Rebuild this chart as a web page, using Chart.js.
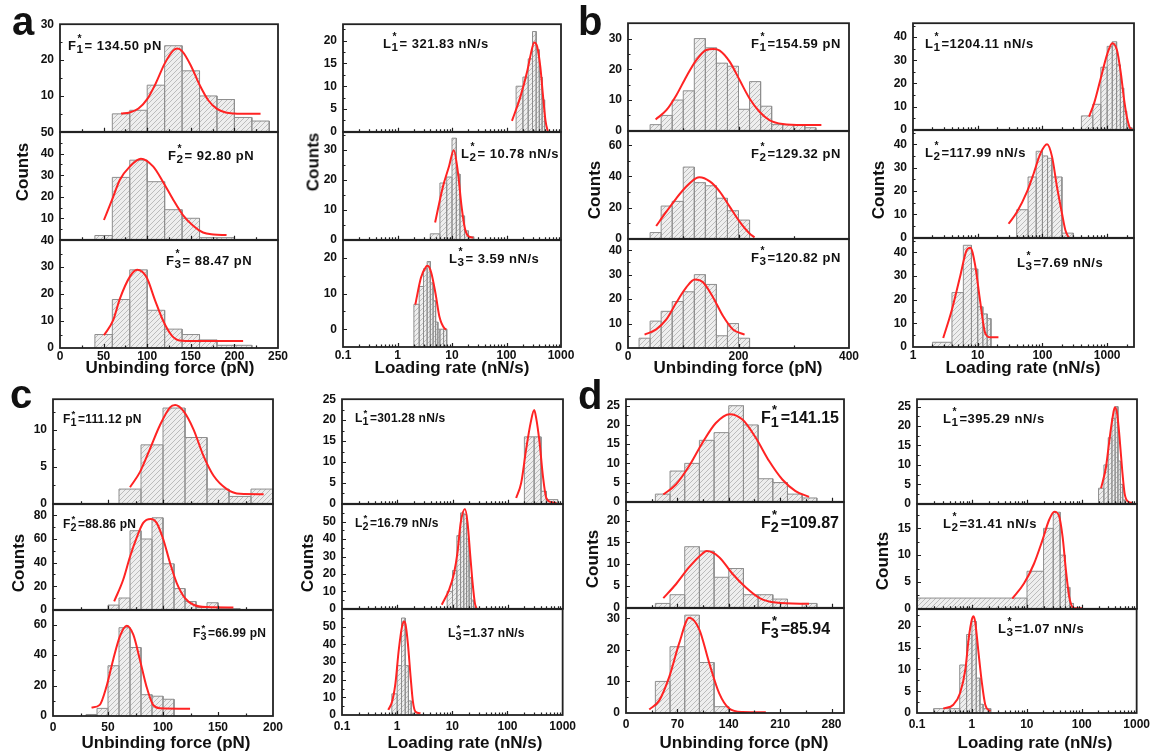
<!DOCTYPE html>
<html>
<head>
<meta charset="utf-8">
<title>Unbinding force and loading rate histograms</title>
<script src="https://cdn.jsdelivr.net/npm/chart.js@4.4.1/dist/chart.umd.min.js"></script>
<style>
  body { margin: 0; background: #fff; }
  #page { position: relative; width: 1152px; height: 753px; overflow: hidden; background: #fff;
          font-family: "Liberation Sans", Arial, sans-serif; color: #111; }
  #page canvas { position: absolute; }
  .txt { position: absolute; font-weight: bold; white-space: nowrap; line-height: 1; }
  .panel { font-size: 40px; }
  .xtitle { font-size: 17px; transform: translate(-50%, -50%); }
  .ytitle { font-size: 17px; transform: translate(-50%, -50%) rotate(-90deg); }
  .note { font-size: 13px; letter-spacing: 0.5px; transform: translateY(-50%); }
  .note.big { font-size: 16px; letter-spacing: 0; }
  .note.small { font-size: 12px; letter-spacing: 0.2px; }
  .ix { display: inline-block; position: relative; width: 0.62em; }
  .ix .up { position: absolute; left: 0.1em; top: -0.45em; font-size: 0.8em; }
  .ix .dn { position: relative; top: 0.28em; font-size: 0.9em; }
</style>
</head>
<body>
<div id="page"></div>
<script>
// ---- data: histogram bin edges, counts, and points ----

// panel a, unbinding force
const aF1Edges = [60, 80, 100, 120, 140, 160, 180, 200, 220, 240];
const aF1Counts = [5, 6, 13, 24, 17, 10, 9, 4, 3];
const aF1Fit = [[70, 5.1], [80, 5.4], [90, 6.5], [100, 9.1], [110, 13.6], [120, 19.0], [130, 22.7], [134.5, 23.2], [140, 22.5], [150, 18.5], [160, 13.1], [170, 8.8], [180, 6.4], [190, 5.4], [200, 5.1], [215, 5.0], [230, 5.0]];
const aF2Edges = [40, 60, 80, 100, 120, 140, 160, 180, 200];
const aF2Counts = [2, 29, 37, 27, 14, 10, 1, 1];
const aF2Fit = [[50.4, 9.2], [61, 20], [68.7, 27.9], [80, 34], [92.8, 37.7], [107, 34], [118, 27], [130, 18.5], [141, 11.5], [153, 6.4], [164, 3.4], [176, 2.5], [191, 2.2]];
const aF3Edges = [40, 60, 80, 100, 120, 140, 160, 180, 200, 220];
const aF3Counts = [5, 18, 29, 14, 7, 5, 3, 1, 1];
const aF3Fit = [[50.4, 4.7], [61, 10.3], [68.7, 18.3], [80, 26.4], [88.5, 29], [99, 26.4], [109, 17.7], [118, 10.3], [128, 4.7], [137, 2.8], [153, 2.6], [180, 2.6], [210, 2.6]];

// panel a, loading rate
const aL1Edges = [150, 200, 250, 300, 350, 400, 450, 500];
const aL1Counts = [10, 12, 16, 22, 18, 12, 7];
const aL1Fit = [[126, 2.4], [179, 7.6], [238, 13.1], [281, 17.2], [322, 19.6], [365, 18.7], [418, 14.2], [470, 7.6], [520, 2.4], [574, 0]];
const aL2Edges = [4, 6, 8, 10, 12, 14, 17, 20, 25];
const aL2Counts = [2, 19, 21, 34, 22, 8, 3, 1];
const aL2Fit = [[4.9, 5.8], [6.8, 17.7], [8.8, 24.5], [10.78, 30], [12.9, 22.3], [14.9, 11.5], [17.1, 4.1], [19.8, 1.25], [24.5, 0.7]];
const aL3Edges = [2, 2.5, 3, 3.5, 4, 4.5, 5, 5.5, 6, 7, 8];
const aL3Counts = [7, 12, 17, 19, 13, 8, 2, 0, 0, 0];
const aL3Fit = [[2.12, 6.9], [2.7, 14.5], [3.35, 17.6], [3.59, 17.8], [4.14, 16.0], [5.0, 9.9], [5.9, 3.4], [7.3, 0.2], [7.85, 0]];

// panel b, unbinding force
const bF1Edges = [40, 60, 80, 100, 120, 140, 160, 180, 200, 220, 240, 260, 280, 300, 320, 340];
const bF1Counts = [2, 5, 10, 13, 30, 27, 22, 21, 7, 16, 8, 2, 2, 2, 1];
const bF1Fit = [[50, 3.7], [69.4, 6.7], [87.5, 11.6], [105.5, 17.6], [123.6, 23], [141.7, 26.3], [154.6, 26.6], [166, 26.1], [184, 22.5], [202, 16.5], [220, 10.5], [238, 6.2], [256, 3.5], [280, 2.2], [317, 1.85], [350, 1.85]];
const bF2Edges = [40, 60, 80, 100, 120, 140, 160, 180, 200, 220];
const bF2Counts = [4, 21, 24, 46, 36, 34, 26, 18, 12];
const bF2Fit = [[51, 8.2], [69.4, 17.4], [87.5, 26], [105.5, 33.5], [123.6, 38.9], [129.3, 39.4], [148, 36.8], [166, 30.3], [184, 20.6], [202, 11], [220, 3.4], [229, 0.9]];
const bF3Edges = [20, 40, 60, 80, 100, 120, 140, 160, 180, 200, 220];
const bF3Counts = [4, 11, 15, 19, 23, 30, 26, 5, 10, 4];
const bF3Fit = [[30, 5.5], [51, 7.6], [69.4, 11.7], [87.5, 18.6], [105.5, 24.8], [120.8, 28], [135.7, 26.9], [154, 20.7], [172, 13.1], [190, 7.6], [211, 5.5]];

// panel b, loading rate
const bL1Edges = [400, 600, 800, 1000, 1200, 1400, 1600, 1800, 2000, 2200, 2400];
const bL1Counts = [6, 11, 27, 36, 38, 28, 18, 8, 2, 1];
const bL1Fit = [[525, 5.7], [628, 11.4], [795, 22.1], [1008, 32.9], [1204, 37.4], [1420, 34.3], [1630, 24.3], [1830, 12.9], [2060, 4.3], [2320, 0.3], [2600, 0]];
const bL2Edges = [40, 60, 80, 100, 120, 140, 200, 300];
const bL2Counts = [12, 26, 37, 35, 34, 26, 2];
const bL2Fit = [[30, 6], [40.4, 11], [57.6, 19.6], [73, 27.4], [93, 36], [118, 40], [141, 34.6], [168, 21.7], [201, 10.3], [227, 3.1], [256, 0]];
const bL3Edges = [2, 4, 6, 8, 10, 12, 14, 16];
const bL3Counts = [2, 23, 43, 33, 17, 14, 12];
const bL3Fit = [[2.93, 3.8], [3.94, 15.2], [5.3, 29.4], [6.7, 40.7], [7.69, 42], [9.07, 35], [10.9, 19.4], [13, 6], [15.6, 4.1], [20.9, 4.1]];

// panel c, unbinding force
const cF1Edges = [60, 80, 100, 120, 140, 160, 180, 200];
const cF1Counts = [2, 8, 13, 9, 2, 1, 2];
const cF1Fit = [[70, 2.25], [79, 4.3], [88, 7.4], [97, 10.6], [106.4, 13.1], [111.1, 13.4], [118.5, 12.6], [127.7, 10.1], [136.8, 6.5], [146, 3.8], [158, 2], [170, 1.35], [191.5, 1.3]];
const cF2Edges = [50, 60, 70, 80, 90, 100, 110, 120, 130, 140, 150, 160, 170];
const cF2Counts = [4, 10, 67, 60, 78, 39, 18, 7, 2, 6, 1, 1];
const cF2Fit = [[55.6, 7.1], [63.8, 25.5], [70, 45], [76, 61], [82, 73.7], [88.9, 77], [94.2, 73.7], [100.3, 59.6], [106.4, 39.7], [112.5, 22.7], [120, 9.9], [127.7, 4.3], [140, 2.3], [164, 2]];
const cF3Edges = [30, 40, 50, 60, 70, 80, 90, 100, 110];
const cF3Counts = [1, 5, 33, 58, 45, 14, 13, 11];
const cF3Fit = [[35, 5.5], [42.5, 7.3], [48.6, 19.3], [54.7, 37], [60.8, 52.3], [67, 59.3], [73, 53.4], [79, 37], [85, 19.3], [91, 7.3], [97.3, 5.1], [124.6, 4.8]];

// panel c, loading rate
const cL1Edges = [200, 300, 400, 500, 800];
const cL1Counts = [16, 16, 3, 1];
const cL1Fit = [[142, 1.4], [175, 5], [215, 13], [260, 19.4], [301, 22.4], [326, 20.6], [377, 14.6], [433, 6.6], [498, 1.4], [610, 0.4], [757, 0.2]];
const cL2Edges = [8, 10, 12, 14, 16, 18, 20, 22, 24, 26];
const cL2Counts = [10, 22, 42, 55, 54, 40, 18, 5, 1];
const cL2Fit = [[6.4, 2.3], [8.7, 11], [10.7, 20.7], [12.3, 32.2], [14.1, 49.6], [16.8, 57.3], [18.7, 49.6], [21, 30.3], [23.1, 14.9], [25.4, 3.3], [27.3, 0]];
const cL3Edges = [0.8, 1.0, 1.2, 1.4, 1.6, 1.8, 2.0];
const cL3Counts = [12, 28, 55, 28, 8, 1];
const cL3Fit = [[0.69, 2.9], [0.81, 7.6], [0.93, 18], [1.07, 37], [1.23, 50.4], [1.35, 53], [1.42, 51.3], [1.56, 40.9], [1.75, 21.9], [1.93, 7.6], [2.15, 1.9], [2.65, 1]];

// panel d, unbinding force
const dF1Edges = [40, 60, 80, 100, 120, 140, 160, 180, 200, 220, 240, 260];
const dF1Counts = [2, 8, 10, 16, 18, 25, 20, 6, 5, 2, 1];
const dF1Fit = [[50.8, 1.9], [68, 4.5], [86, 9.3], [104, 15.3], [122.4, 20.5], [141.2, 22.8], [158.7, 21.4], [177, 16.6], [195, 10.6], [213, 5.8], [231, 2.8], [249.4, 1.3]];
const dF2Edges = [40, 60, 80, 100, 120, 140, 160, 180, 200, 220, 240, 260];
const dF2Counts = [1, 3, 14, 13, 7, 9, 3, 3, 2, 0, 1];
const dF2Fit = [[50.8, 2.2], [68, 5.4], [86, 9.3], [104, 12.4], [109.9, 13], [127, 11.6], [145, 7.8], [163, 4.7], [181.4, 2.3], [204, 1.2], [249.4, 0.9]];
const dF3Edges = [40, 60, 80, 100, 120, 140];
const dF3Counts = [10, 21, 31, 16, 2];
const dF3Fit = [[31.7, 1.1], [45.4, 4], [59, 11.5], [72.6, 22.2], [86, 30.2], [99.8, 26.5], [113.4, 15.8], [127, 6.2], [140.6, 1.4], [158.7, 0.3], [190.5, 0.2]];

// panel d, loading rate
const dL1Edges = [200, 250, 300, 350, 400, 450, 500, 550, 600];
const dL1Counts = [4, 10, 17, 22, 25, 11, 5, 1];
const dL1Fit = [[222, 4], [274, 9.6], [315, 16.4], [362, 22.4], [395, 24.8], [434, 23.3], [480, 17.3], [538, 8.7], [595, 2.7], [686, 0.6], [845, 0.2]];
const dL2Edges = [0.1, 10, 20, 30, 40, 50, 60, 70];
const dL2Counts = [2, 7, 15, 18, 10, 4, 1];
const dL2Fit = [[5.4, 1.9], [8.8, 4.7], [13.4, 8.4], [19.1, 12.8], [25.3, 16.6], [31.4, 18.1], [38.5, 17.2], [44.4, 13.4], [51, 7.2], [58.6, 2.2], [72.3, 0.1], [100, 0.1]];
const dL3Edges = [0.2, 0.4, 0.6, 0.8, 1.0, 1.2, 1.4, 1.6, 2.2];
const dL3Counts = [1, 1, 11, 18, 21, 8, 2, 1];
const dL3Fit = [[0.3, 1], [0.46, 1.9], [0.61, 4.6], [0.76, 10], [0.87, 16.9], [1.0, 21.5], [1.07, 22.2], [1.15, 20.8], [1.32, 13.8], [1.52, 6.9], [1.75, 1.9], [2.16, 0.4]];

// tick labels
const forceTicksA = [0, 50, 100, 150, 200, 250];
const forceTicksB = [0, 200, 400];
const forceTicksC = [0, 50, 100, 150, 200];
const forceTicksD = [0, 70, 140, 210, 280];
const rateTicks = [0.1, 1, 10, 100, 1000];
const rateTicksB = [1, 10, 100, 1000];
const yTicks10to30 = [10, 20, 30];
const yTicks10to50 = [10, 20, 30, 40, 50];
const yTicks0to40by10 = [0, 10, 20, 30, 40];
const yTicks0to30by10 = [0, 10, 20, 30];
const yTicks0to20by10 = [0, 10, 20];
const yTicks0to20by5 = [0, 5, 10, 15, 20];
const yTicks0to25by5 = [0, 5, 10, 15, 20, 25];
const yTicks0to15by5 = [0, 5, 10, 15];
const yTicks0to10by5 = [0, 5, 10];
const yTicks0to60by20 = [0, 20, 40, 60];
const yTicks0to80by20 = [0, 20, 40, 60, 80];
const yTicks0to50by10 = [0, 10, 20, 30, 40, 50];

// fitted peak values shown in each subplot
const aNotes = [['F', '1', '= 134.50 pN'], ['F', '2', '= 92.80 pN'], ['F', '3', '= 88.47 pN'],
                ['L', '1', '= 321.83 nN/s'], ['L', '2', '= 10.78 nN/s'], ['L', '3', '= 3.59 nN/s']];
const bNotes = [['F', '1', '=154.59 pN'], ['F', '2', '=129.32 pN'], ['F', '3', '=120.82 pN'],
                ['L', '1', '=1204.11 nN/s'], ['L', '2', '=117.99 nN/s'], ['L', '3', '=7.69 nN/s']];
const cNotes = [['F', '1', '=111.12 pN'], ['F', '2', '=88.86 pN'], ['F', '3', '=66.99 pN'],
                ['L', '1', '=301.28 nN/s'], ['L', '2', '=16.79 nN/s'], ['L', '3', '=1.37 nN/s']];
const dNotes = [['F', '1', '=141.15'], ['F', '2', '=109.87'], ['F', '3', '=85.94'],
                ['L', '1', '=395.29 nN/s'], ['L', '2', '=31.41 nN/s'], ['L', '3', '=1.07 nN/s']];

// ---- layout of the eight columns (page pixels) ----
const FORCE = 'Unbinding force (pN)';
const RATE = 'Loading rate (nN/s)';

const columns = [
  { L: 60, R: 278, rows: [24, 132, 240, 348], xType: 'linear', xRange: [0, 250], xTicks: forceTicksA, xPad: 1,
    title: FORCE, titleAt: [170, 367], countsAt: [22, 172], noteCls: '',
    subs: [
      { edges: aF1Edges, counts: aF1Counts, fit: aF1Fit, yRange: [0, 30], yTicks: yTicks10to30, note: aNotes[0], at: [68, 45] },
      { edges: aF2Edges, counts: aF2Counts, fit: aF2Fit, yRange: [0, 50], yTicks: yTicks10to50, note: aNotes[1], at: [168, 155] },
      { edges: aF3Edges, counts: aF3Counts, fit: aF3Fit, yRange: [0, 40], yTicks: yTicks0to40by10, note: aNotes[2], at: [166, 260] }
    ] },
  { L: 343, R: 561, rows: [24, 132, 240, 347], xType: 'logarithmic', xRange: [0.1, 1000], xTicks: rateTicks, xPad: 1,
    title: RATE, titleAt: [452, 367], countsAt: [313, 162], noteCls: '',
    subs: [
      { edges: aL1Edges, counts: aL1Counts, fit: aL1Fit, yRange: [0, 23.6], yTicks: yTicks0to20by5, note: aNotes[3], at: [383, 43] },
      { edges: aL2Edges, counts: aL2Counts, fit: aL2Fit, yRange: [0, 36], yTicks: yTicks0to30by10, note: aNotes[4], at: [461, 153] },
      { edges: aL3Edges, counts: aL3Counts, fit: aL3Fit, yRange: [-5, 25], yTicks: yTicks0to20by10, note: aNotes[5], at: [449, 258] }
    ] },
  { L: 628, R: 849, rows: [23, 131, 239, 348], xType: 'linear', xRange: [0, 400], xTicks: forceTicksB, xPad: 1,
    title: FORCE, titleAt: [738, 367], countsAt: [594, 190], noteCls: '',
    subs: [
      { edges: bF1Edges, counts: bF1Counts, fit: bF1Fit, yRange: [0, 35], yTicks: yTicks0to30by10, note: bNotes[0], at: [751, 43] },
      { edges: bF2Edges, counts: bF2Counts, fit: bF2Fit, yRange: [0, 69], yTicks: yTicks0to60by20, note: bNotes[1], at: [751, 153] },
      { edges: bF3Edges, counts: bF3Counts, fit: bF3Fit, yRange: [0, 44.5], yTicks: yTicks0to40by10, note: bNotes[2], at: [751, 257] }
    ] },
  { L: 913, R: 1134, rows: [23, 130, 238, 347], xType: 'logarithmic', xRange: [1, 2600], xTicks: rateTicksB, xPad: 1,
    title: RATE, titleAt: [1023, 367], countsAt: [878, 190], noteCls: '',
    subs: [
      { edges: bL1Edges, counts: bL1Counts, fit: bL1Fit, yRange: [0, 46], yTicks: yTicks0to40by10, note: bNotes[3], at: [925, 43] },
      { edges: bL2Edges, counts: bL2Counts, fit: bL2Fit, yRange: [0, 46], yTicks: yTicks0to40by10, note: bNotes[4], at: [925, 152] },
      { edges: bL3Edges, counts: bL3Counts, fit: bL3Fit, yRange: [0, 46], yTicks: yTicks0to40by10, note: bNotes[5], at: [1017, 262] }
    ] },
  { L: 53, R: 273, rows: [399, 504, 610, 716], xType: 'linear', xRange: [0, 200], xTicks: forceTicksC, xPad: 4,
    title: FORCE, titleAt: [166, 742], countsAt: [18, 563], noteCls: 'small',
    subs: [
      { edges: cF1Edges, counts: cF1Counts, fit: cF1Fit, yRange: [0, 14.2], yTicks: yTicks0to10by5, note: cNotes[0], at: [63, 419] },
      { edges: cF2Edges, counts: cF2Counts, fit: cF2Fit, yRange: [0, 89.5], yTicks: yTicks0to80by20, note: cNotes[1], at: [63, 524] },
      { edges: cF3Edges, counts: cF3Counts, fit: cF3Fit, yRange: [0, 69.5], yTicks: yTicks0to60by20, note: cNotes[2], at: [193, 633] }
    ] },
  { L: 342, R: 563, rows: [399, 504, 609, 715], xType: 'logarithmic', xRange: [0.1, 1000], xTicks: rateTicks, xPad: 4,
    title: RATE, titleAt: [465, 742], countsAt: [307, 563], noteCls: 'small',
    subs: [
      { edges: cL1Edges, counts: cL1Counts, fit: cL1Fit, yRange: [0, 25], yTicks: yTicks0to25by5, note: cNotes[3], at: [355, 418] },
      { edges: cL2Edges, counts: cL2Counts, fit: cL2Fit, yRange: [0, 60], yTicks: yTicks0to50by10, note: cNotes[4], at: [355, 523] },
      { edges: cL3Edges, counts: cL3Counts, fit: cL3Fit, yRange: [0, 60], yTicks: yTicks0to50by10, note: cNotes[5], at: [448, 633] }
    ] },
  { L: 626, R: 844, rows: [399, 502, 608, 713], xType: 'linear', xRange: [0, 297], xTicks: forceTicksD, xPad: 4,
    title: FORCE, titleAt: [744, 742], countsAt: [592, 559], noteCls: 'big',
    subs: [
      { edges: dF1Edges, counts: dF1Counts, fit: dF1Fit, yRange: [0, 26.7], yTicks: yTicks0to25by5, note: dNotes[0], at: [761, 418] },
      { edges: dF2Edges, counts: dF2Counts, fit: dF2Fit, yRange: [0, 24.2], yTicks: yTicks0to20by5, note: dNotes[1], at: [761, 523] },
      { edges: dF3Edges, counts: dF3Counts, fit: dF3Fit, yRange: [0, 33.2], yTicks: yTicks0to30by10, note: dNotes[2], at: [761, 629] }
    ] },
  { L: 917, R: 1137, rows: [399, 504, 609, 713], xType: 'logarithmic', xRange: [0.1, 1000], xTicks: rateTicks, xPad: 4,
    title: RATE, titleAt: [1035, 742], countsAt: [882, 561], noteCls: '',
    subs: [
      { edges: dL1Edges, counts: dL1Counts, fit: dL1Fit, yRange: [0, 26.9], yTicks: yTicks0to25by5, note: dNotes[3], at: [943, 418] },
      { edges: dL2Edges, counts: dL2Counts, fit: dL2Fit, yRange: [0, 19.5], yTicks: yTicks0to15by5, note: dNotes[4], at: [943, 523] },
      { edges: dL3Edges, counts: dL3Counts, fit: dL3Fit, yRange: [0, 23.8], yTicks: yTicks0to20by5, note: dNotes[5], at: [998, 628] }
    ] }
];

const panelLetters = [['a', 12, 1], ['b', 578, 1], ['c', 10, 374], ['d', 578, 375]];

Chart.defaults.font.family = '"Liberation Sans", Arial, sans-serif';
Chart.defaults.color = '#111';

const page = document.getElementById('page');

function addText(cls, html, x, y) {
  const d = document.createElement('div');
  d.className = 'txt ' + cls;
  d.innerHTML = html;
  d.style.left = x + 'px';
  d.style.top = y + 'px';
  page.appendChild(d);
}

// small light-grey tile with "/" hatching, like the Origin column fill
const hatchTile = document.createElement('canvas');
hatchTile.width = 5;
hatchTile.height = 5;
(function () {
  const g = hatchTile.getContext('2d');
  g.fillStyle = '#eeeeee';
  g.fillRect(0, 0, 5, 5);
  g.strokeStyle = '#b5b5b5';
  g.lineWidth = 0.9;
  [-5, 0, 5].forEach(o => {
    g.beginPath();
    g.moveTo(o, 5);
    g.lineTo(o + 5, 0);
    g.stroke();
  });
})();

// outline of the histogram columns: up, across, down for every bin
function columnOutline(edges, counts, base) {
  const pts = [];
  counts.forEach((c, i) => {
    pts.push({ x: edges[i], y: base }, { x: edges[i], y: c }, { x: edges[i + 1], y: c }, { x: edges[i + 1], y: base });
  });
  return pts;
}

function linearMarks(min, max, step) {
  const major = [], minor = [];
  const start = Math.ceil(min / (step / 2) - 1e-9);
  for (let k = start; k * step / 2 <= max + 1e-9; k++) {
    const v = +(k * step / 2).toFixed(6);
    (k % 2 === 0 ? major : minor).push(v);
  }
  return { major, minor };
}

function logMarks(min, max) {
  const major = [], minor = [];
  for (let e = Math.floor(Math.log10(min)); e <= Math.ceil(Math.log10(max)); e++) {
    const base = Math.pow(10, e);
    if (base >= min * 0.999 && base <= max * 1.001) major.push(base);
    for (let k = 2; k <= 9; k++) {
      const v = k * base;
      if (v > min && v < max) minor.push(v);
    }
  }
  return { major, minor };
}

// inward tick marks and the dark frame round each subplot
function frameTicks(xm, ym) {
  return {
    id: 'frameTicks',
    afterDraw(chart) {
      const { ctx, chartArea: a, scales: { x, y } } = chart;
      ctx.save();
      ctx.strokeStyle = '#1e1e1e';
      ctx.lineWidth = 1.2;
      ctx.beginPath();
      const yMark = (v, len) => {
        const p = Math.round(y.getPixelForValue(v)) + 0.5;
        if (p > a.top + 1 && p < a.bottom - 1) { ctx.moveTo(a.left, p); ctx.lineTo(a.left + len, p); }
      };
      const xMark = (v, len) => {
        const p = Math.round(x.getPixelForValue(v)) + 0.5;
        if (p > a.left + 1 && p < a.right - 1) { ctx.moveTo(p, a.bottom); ctx.lineTo(p, a.bottom - len); }
      };
      ym.major.forEach(v => yMark(v, 4));
      ym.minor.forEach(v => yMark(v, 2.5));
      xm.major.forEach(v => xMark(v, 4));
      xm.minor.forEach(v => xMark(v, 2.5));
      ctx.stroke();
      ctx.lineWidth = 1.8;
      ctx.strokeStyle = '#222';
      ctx.strokeRect(a.left, a.top, a.right - a.left, a.bottom - a.top);
      ctx.restore();
    }
  };
}

function makeSubplot(col, s, r) {
  const T = col.rows[r], B = col.rows[r + 1];
  const last = r === 2;
  const padL = 44, padT = 8, padR = 16, padB = last ? 22 : 3;
  let w = col.R - col.L + padL + padR;
  let h = B - T + padT + padB;

  const cv = document.createElement('canvas');
  cv.width = w;
  cv.height = h;
  page.appendChild(cv);
  const ctx = cv.getContext('2d');
  const hatch = ctx.createPattern(hatchTile, 'repeat');

  const yStep = s.yTicks[1] - s.yTicks[0];
  const ym = linearMarks(s.yRange[0], s.yRange[1], yStep);
  const xm = col.xType === 'logarithmic'
    ? logMarks(col.xRange[0], col.xRange[1])
    : linearMarks(col.xRange[0], col.xRange[1], col.xTicks[1] - col.xTicks[0]);

  const tickFont = { size: 12, weight: 'bold' };

  const config = () => ({
    type: 'line',
    data: {
      datasets: [
        {
          data: s.fit.map(p => ({ x: p[0], y: p[1] })),
          borderColor: '#ff2323',
          borderWidth: 2,
          pointRadius: 0,
          fill: false,
          cubicInterpolationMode: 'monotone',
          order: 0
        },
        {
          data: columnOutline(s.edges, s.counts, s.yRange[0]),
          borderColor: '#8e8e8e',
          borderWidth: 1,
          backgroundColor: hatch,
          pointRadius: 0,
          tension: 0,
          fill: 'start',
          order: 1
        }
      ]
    },
    options: {
      responsive: false,
      maintainAspectRatio: false,
      devicePixelRatio: 1,
      animation: false,
      events: [],
      layout: { padding: { top: padT, right: padR, left: 0, bottom: last ? 0 : padB } },
      plugins: { legend: { display: false }, tooltip: { enabled: false } },
      scales: {
        x: {
          type: col.xType,
          min: col.xRange[0],
          max: col.xRange[1],
          bounds: 'data',
          display: last,
          grid: { display: false, drawTicks: false },
          border: { display: false },
          afterBuildTicks: sc => { sc.ticks = col.xTicks.map(v => ({ value: v })); },
          afterFit: sc => { if (last) sc.height = padB; },
          ticks: {
            font: tickFont,
            color: '#111',
            padding: col.xPad,
            maxRotation: 0,
            autoSkip: false,
            callback: v => String(v)
          }
        },
        y: {
          type: 'linear',
          min: s.yRange[0],
          max: s.yRange[1],
          bounds: 'data',
          grid: { display: false, drawTicks: false },
          border: { display: false },
          afterBuildTicks: sc => { sc.ticks = s.yTicks.map(v => ({ value: v })); },
          afterFit: sc => { sc.width = padL; },
          ticks: {
            font: tickFont,
            color: '#111',
            padding: 6,
            autoSkip: false,
            callback: v => String(v)
          }
        }
      }
    },
    plugins: [frameTicks(xm, ym)]
  });

  // build once, see where the plot area landed, and rebuild so it matches the target box
  let chart = new Chart(cv, config());
  let a = chart.chartArea;
  const dw = Math.round((col.R - col.L) - (a.right - a.left));
  const dh = Math.round((B - T) - (a.bottom - a.top));
  if (dw !== 0 || dh !== 0) {
    chart.destroy();
    w += dw;
    h += dh;
    cv.width = w;
    cv.height = h;
    chart = new Chart(cv, config());
    a = chart.chartArea;
  }
  cv.style.left = Math.round(col.L - a.left) + 'px';
  cv.style.top = Math.round(T - a.top) + 'px';

  const n = s.note;
  addText('note ' + col.noteCls,
    n[0] + '<span class="ix"><span class="up">*</span><span class="dn">' + n[1] + '</span></span>' + n[2],
    s.at[0], s.at[1]);
}

columns.forEach(col => {
  col.subs.forEach((s, r) => makeSubplot(col, s, r));
  addText('xtitle', col.title, col.titleAt[0], col.titleAt[1]);
  addText('ytitle', 'Counts', col.countsAt[0], col.countsAt[1]);
});

panelLetters.forEach(p => addText('panel', p[0], p[1], p[2]));
</script>
</body>
</html>
